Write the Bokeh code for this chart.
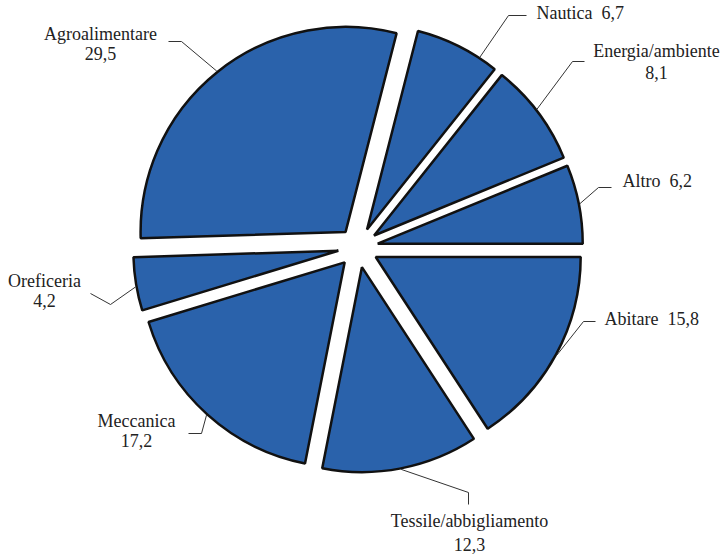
import math
from bokeh.plotting import figure
from bokeh.models import Range1d
from bokeh.core.properties import value
from bokeh.embed import file_html
from bokeh.resources import INLINE

# ---- data (clockwise from 3 o'clock) ----
categories = ["Abitare", "Tessile/abbigliamento", "Meccanica", "Oreficeria",
              "Agroalimentare", "Nautica", "Energia/ambiente", "Altro"]
shares = [15.8, 12.3, 17.2, 4.2, 29.5, 6.7, 8.1, 6.2]
share_labels = ["15,8", "12,3", "17,2", "4,2", "29,5", "6,7", "8,1", "6,2"]

# ---- layout (screen pixel coordinates, y downwards) ----
CX, CY, R, EXPLODE = 357.6, 247.0, 205.0, 20.0
START_DEG = 90.0  # first slice starts at 3 o'clock
anchor_frac = [0.5, 0.5, 0.5, 0.45, 0.5, 0.78, 0.47, 0.5]
knees = [(583, 321), (468, 492), (201, 433), (110, 304), (181, 41), (508, 15), (572, 61), (598, 187)]
ends = [(595, 321), (468, 504), (188, 433), (90, 293), (168, 41), (526, 15), (584, 61), (611, 187)]
# label layout: (mode, x, y_name, y_value, align)
label_pos = [
    ("inline", 604, 326, None, "left"),
    ("stack", 469, 528, 551, "center"),
    ("stack", 136, 428, 447, "center"),
    ("stack", 44, 288, 307, "center"),
    ("stack", 100, 41, 60, "center"),
    ("inline", 536, 20, None, "left"),
    ("stack", 656, 58, 79, "center"),
    ("inline", 622, 188, None, "left"),
]
TEXT_DY = 7.5  # renderer places baseline lower; shift up

FILL = "#2a62ab"
FONT = "Liberation Serif"
W, H = 725, 556

p = figure(width=W, height=H, output_backend="svg", toolbar_location=None,
           x_range=Range1d(0, W), y_range=Range1d(-H, 0),
           x_axis_location=None, y_axis_location=None, min_border=0)
p.grid.visible = False
p.outline_line_color = None

total = sum(shares)
cum = 0.0
xs, ys, starts, ends_a = [], [], [], []
lead_x, lead_y = [], []
for i, v in enumerate(shares):
    t1 = START_DEG + cum / total * 360.0
    t2 = t1 + v / total * 360.0
    cum += v
    tm = math.radians((t1 + t2) / 2)
    cx = CX + EXPLODE * math.sin(tm)
    cy = -CY + EXPLODE * math.cos(tm)
    xs.append(cx)
    ys.append(cy)
    starts.append(math.radians(90 - t2))
    ends_a.append(math.radians(90 - t1))
    ta = math.radians(t1 + anchor_frac[i] * (t2 - t1))
    ax = cx + (R + 1) * math.sin(ta)
    ay = cy + (R + 1) * math.cos(ta)
    kx, ky = knees[i]
    ex, ey = ends[i]
    lead_x.append([ax, kx, ex])
    lead_y.append([ay, -ky, -ey])

p.wedge(x=xs, y=ys, radius=R, start_angle=starts, end_angle=ends_a,
        direction="anticlock", fill_color=FILL, line_color="#111111", line_width=2.5)
p.multi_line(xs=lead_x, ys=lead_y, line_color="#333333", line_width=1)

for i, (mode, lx, y1, y2, align) in enumerate(label_pos):
    if mode == "inline":
        p.text(x=[lx], y=[-y1 + TEXT_DY], text=[categories[i] + "\u00a0\u00a0" + share_labels[i]],
               text_font=value(FONT), text_font_size="18px", text_color="#222222",
               text_align=align, text_baseline="alphabetic")
    else:
        p.text(x=[lx, lx], y=[-y1 + TEXT_DY, -y2 + TEXT_DY], text=[categories[i], share_labels[i]],
               text_font=value(FONT), text_font_size="18px", text_color="#222222",
               text_align=align, text_baseline="alphabetic")

open("out.html", "w").write(file_html(p, INLINE))
